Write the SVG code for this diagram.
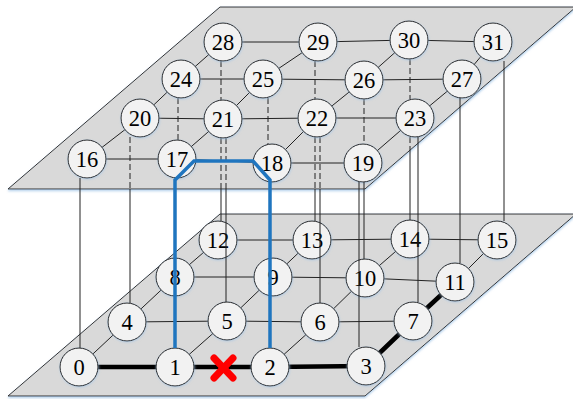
<svg xmlns="http://www.w3.org/2000/svg" width="573" height="399" viewBox="0 0 573 399">
<defs>
<filter id="sh" x="-5%" y="-5%" width="110%" height="115%">
<feDropShadow dx="0" dy="1.5" stdDeviation="1" flood-color="#9dc3e6" flood-opacity="0.8"/>
</filter>
<filter id="nsh" x="-20%" y="-20%" width="140%" height="140%">
<feDropShadow dx="0.5" dy="1" stdDeviation="0.8" flood-color="#9dc3e6" flood-opacity="0.6"/>
</filter>
<style>
.plane{fill:#d9d9d9;stroke:#333;stroke-width:1;filter:url(#sh)}
.e{stroke:#222;stroke-width:1;fill:none}
.d{stroke:#222;stroke-width:1;fill:none;stroke-dasharray:6,3}
.v{stroke:#222;stroke-width:1;fill:none}
.thick{stroke:#000;stroke-width:4.5;fill:none}
.n circle{fill:#f2f2f2;stroke:#222;stroke-width:1;filter:url(#nsh)}
.n text{font-family:"Liberation Serif","Times New Roman",serif;font-size:22.5px;text-anchor:middle;fill:#000}
.blue{stroke:#1f75bf;stroke-width:3.5;fill:none;stroke-linejoin:miter}
.x{stroke:#ff0000;stroke-width:7;stroke-linecap:round}
</style>
</defs>

<!-- top plane -->
<polygon class="plane" points="220,7 576,7 365,189 8,189"/>
<g id="top-edges">
<path class="e" d="M87,159 L177,159 L272,163 L363,163"/>
<path class="e" d="M140,118 L223,119 L317,118 L415,118"/>
<path class="e" d="M181,79 L263,79 L364,80 L462,79"/>
<path class="e" d="M223,42 L318,42 L409,40 L493,42"/>
<path class="e" d="M87,159 L140,118 L181,79 L223,42"/>
<path class="e" d="M177,159 L223,119 L263,79 L318,42"/>
<path class="e" d="M272,163 L317,118 L364,80 L409,40"/>
<path class="e" d="M363,163 L415,118 L462,79 L493,42"/>
</g>
<g id="connectors-dashed">
<path class="d" d="M130,137 V189"/>
<path class="d" d="M178,98 V140"/>
<path class="d" d="M268,98 V144"/>
<path class="d" d="M221,61 V100 M221,138 V189"/>
<path class="d" d="M226,138 V189"/>
<path class="d" d="M315,61 V99 M315,137 V189"/>
<path class="d" d="M320,137 V189"/>
<path class="d" d="M364,99 V144"/>
<path class="d" d="M410,59 V99 M410,137 V150"/>
</g>
<g id="top-nodes">
<g class="n" id="n16"><circle cx="87" cy="159" r="19"/><text x="87" y="167">16</text></g>
<g class="n" id="n17"><circle cx="177" cy="159" r="19"/><text x="177" y="167">17</text></g>
<g class="n" id="n18"><circle cx="272" cy="163" r="19"/><text x="272" y="171">18</text></g>
<g class="n" id="n19"><circle cx="363" cy="163" r="19"/><text x="363" y="171">19</text></g>
<g class="n" id="n20"><circle cx="140" cy="118" r="19"/><text x="140" y="126">20</text></g>
<g class="n" id="n21"><circle cx="223" cy="119" r="19"/><text x="223" y="127">21</text></g>
<g class="n" id="n22"><circle cx="317" cy="118" r="19"/><text x="317" y="126">22</text></g>
<g class="n" id="n23"><circle cx="415" cy="118" r="19"/><text x="415" y="126">23</text></g>
<g class="n" id="n24"><circle cx="181" cy="79" r="19"/><text x="181" y="87">24</text></g>
<g class="n" id="n25"><circle cx="263" cy="79" r="19"/><text x="263" y="87">25</text></g>
<g class="n" id="n26"><circle cx="364" cy="80" r="19"/><text x="364" y="88">26</text></g>
<g class="n" id="n27"><circle cx="462" cy="79" r="19"/><text x="462" y="87">27</text></g>
<g class="n" id="n28"><circle cx="223" cy="42" r="19"/><text x="223" y="50">28</text></g>
<g class="n" id="n29"><circle cx="318" cy="42" r="19"/><text x="318" y="50">29</text></g>
<g class="n" id="n30"><circle cx="409" cy="40" r="19"/><text x="409" y="48">30</text></g>
<g class="n" id="n31"><circle cx="493" cy="42" r="19"/><text x="493" y="50">31</text></g>
</g>

<!-- bottom plane -->
<polygon class="plane" points="220,214 576,214 365,396 8,396"/>
<g id="bottom-edges">
<path class="e" d="M127,322 L227,321 L320,322 L413,321"/>
<path class="e" d="M175,277 L273,277 L365,278 L455,282"/>
<path class="e" d="M218,240 L312,240 L410,239 L497,240"/>
<path class="e" d="M79,367 L127,322 L175,277 L218,240"/>
<path class="e" d="M175,367 L227,321 L273,277 L312,240"/>
<path class="e" d="M270,367 L320,322 L365,278 L410,239"/>
<path class="e" d="M413,321 L455,282 L497,240"/>
<path class="thick" d="M79,367 L175,367 L270,367 L366,366"/>
<path class="thick" d="M366,366 L413,321 L455,282"/>
</g>
<g id="bottom-nodes">
<g class="n" id="n0"><circle cx="79" cy="367" r="19"/><text x="79" y="375">0</text></g>
<g class="n" id="n1"><circle cx="175" cy="367" r="19"/><text x="175" y="375">1</text></g>
<g class="n" id="n2"><circle cx="270" cy="367" r="19"/><text x="270" y="375">2</text></g>
<g class="n" id="n3"><circle cx="366" cy="366" r="19"/><text x="366" y="374">3</text></g>
<g class="n" id="n4"><circle cx="127" cy="322" r="19"/><text x="127" y="330">4</text></g>
<g class="n" id="n5"><circle cx="227" cy="321" r="19"/><text x="227" y="329">5</text></g>
<g class="n" id="n6"><circle cx="320" cy="322" r="19"/><text x="320" y="330">6</text></g>
<g class="n" id="n7"><circle cx="413" cy="321" r="19"/><text x="413" y="329">7</text></g>
<g class="n" id="n8"><circle cx="175" cy="277" r="19"/><text x="175" y="285">8</text></g>
<g class="n" id="n9"><circle cx="273" cy="277" r="19"/><text x="273" y="285">9</text></g>
<g class="n" id="n10"><circle cx="365" cy="278" r="19"/><text x="365" y="286">10</text></g>
<g class="n" id="n11"><circle cx="455" cy="282" r="19"/><text x="455" y="290">11</text></g>
<g class="n" id="n12"><circle cx="218" cy="240" r="19"/><text x="218" y="248">12</text></g>
<g class="n" id="n13"><circle cx="312" cy="240" r="19"/><text x="312" y="248">13</text></g>
<g class="n" id="n14"><circle cx="410" cy="239" r="19"/><text x="410" y="247">14</text></g>
<g class="n" id="n15"><circle cx="497" cy="240" r="19"/><text x="497" y="248">15</text></g>
</g>

<g id="connectors">
<path class="v" d="M80,178 V348"/>
<path class="v" d="M130,189 V303"/>
<path class="v" d="M221,189 V221"/>
<path class="v" d="M226,189 V302"/>
<path class="v" d="M315,189 V221"/>
<path class="v" d="M320,189 V303"/>
<path class="v" d="M364,182 V259"/>
<path class="v" d="M359,182 V347"/>
<path class="v" d="M410,150 V220"/>
<path class="v" d="M418,137 V302"/>
<path class="v" d="M460,98 V263"/>
<path class="v" d="M504,61 V221"/>
<path class="blue" d="M175,348 L175,180 L194,161 L253,161 L270,180 L270,348"/>
</g>
<g id="fault">
<line class="x" x1="214" y1="358" x2="233" y2="378"/>
<line class="x" x1="233" y1="358" x2="214" y2="378"/>
</g>
</svg>
